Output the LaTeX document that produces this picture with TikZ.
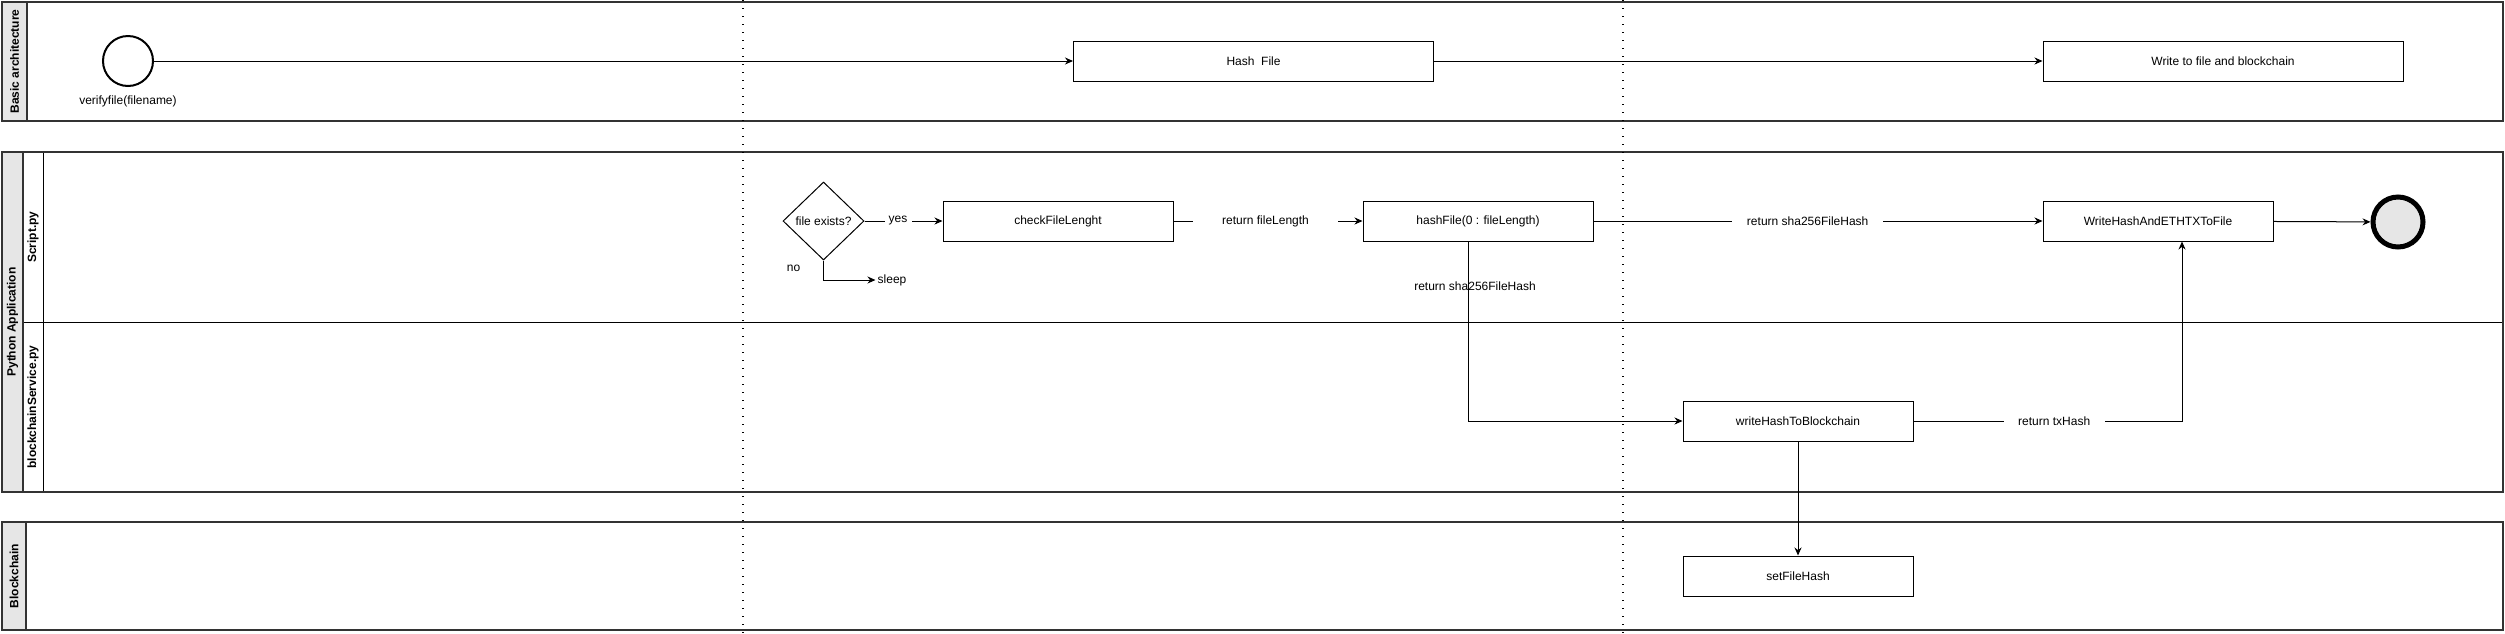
\documentclass[tikz,border=0pt]{standalone}
\usepackage{fontspec}
\setmainfont{Liberation Sans}
\usetikzlibrary{arrows.meta,shapes.geometric}
\definecolor{hdr}{HTML}{E6E6E6}
\definecolor{lanec}{HTML}{333333}
\begin{document}
\begin{tikzpicture}[x=1pt,y=-1pt,
  font=\fontsize{12}{14}\selectfont,
  lane/.style={draw=lanec, line width=2.2pt},
  hdrbox/.style={draw=lanec, line width=2.2pt, fill=hdr},
  hdrtext/.style={rotate=90, font=\fontsize{12}{14}\selectfont\bfseries},
  divline/.style={draw=black, line width=1pt},
  vdots/.style={dash pattern=on 1.3pt off 6.7pt, line width=1.3pt},
  act/.style={draw, line width=1pt, fill=white, minimum height=40pt, minimum width=230pt, inner sep=2pt},
  arr/.style={draw, line width=1pt, -{Stealth[length=8pt,width=7pt]}},
  lbl/.style={fill=white, inner ysep=2pt, inner xsep=0pt},
]
\fill[white] (0,0) rectangle (2505,633);
\useasboundingbox (0,0) rectangle (2505,633);

% Lane 1
\draw[lane] (2,2) rectangle (2503,121);
\draw[hdrbox] (2,2) rectangle (27,121);
\node[hdrtext] (h1) at (14.5,61.5) {Basic architecture};

% Lane 2
\draw[divline] (23,322) -- (2503,322);
\draw[divline] (43,152) -- (43,492);
\draw[lane] (2,152) rectangle (2503,492);
\draw[hdrbox] (2,152) rectangle (23,492);
\node[hdrtext] (h2) at (12.5,322) {Python Application};
\node[hdrtext] (h2a) at (33,237) {Script.py};
\node[hdrtext] (h2b) at (33,407) {blockchainService.py};

% Lane 3
\draw[lane] (2,522) rectangle (2503,630);
\draw[hdrbox] (2,522) rectangle (26,630);
\node[hdrtext] (h3) at (14,576) {Blockchain};

% dotted separators
\draw[vdots] (743,0) -- (743,633);
\draw[vdots] (1623,0) -- (1623,633);

% nodes
\node[circle, draw, line width=2pt, minimum size=50pt, inner sep=0pt, fill=white] (start) at (128,61) {};
\node (startlbl) at (128,101) {verifyfile(filename)};
\node[act, minimum width=360pt] (hashf) at (1253.5,61) {Hash\ \ File};
\node[act, minimum width=360pt] (wfb) at (2223,61) {Write to file and blockchain};

\node[diamond, draw, line width=1pt, fill=white, minimum width=81pt, minimum height=78pt, inner sep=0pt] (exists) at (823.5,221) {file exists?};
\node[inner sep=2pt] (sleep) at (892,280) {sleep};
\node[act] (cfl) at (1058,221) {checkFileLenght};
\node[act] (hf) at (1478,221) {hashFile(0 : fileLength)};
\node[act] (wh) at (2158,221) {WriteHashAndETHTXToFile};
\node[circle, draw, line width=5pt, minimum size=50pt, inner sep=0pt, fill=hdr] (end) at (2398,222) {};
\node[act] (wb) at (1798,421) {writeHashToBlockchain};
\node[act] (sfh) at (1798,576) {setFileHash};

% edges
\draw[arr] (start) -- (hashf);
\draw[arr] (hashf) -- (wfb);
\draw[arr] (exists) -- node[lbl, pos=0.43, minimum width=27pt] {yes} (cfl);
\draw[arr] (exists.south) |- node[pos=0, xshift=-30pt, yshift=-8pt] {no} (sleep.west);
\draw[arr] (cfl) -- node[lbl, pos=0.487, minimum width=145pt] {return fileLength} (hf);
\draw[arr] (hf) -- node[lbl, pos=0.477, minimum width=151pt] {return sha256FileHash} (wh);
\draw[arr] (wh) -- (end);
\draw[arr] ([xshift=-10pt]hf.south) |- node[pos=0.125, xshift=7pt] {return sha256FileHash} (wb.west);
\draw[arr] (wb.east) -| node[lbl, pos=0.262, minimum width=101pt] {return txHash} ([xshift=24pt]wh.south);
\draw[arr] (wb) -- (sfh);
\end{tikzpicture}
\end{document}
